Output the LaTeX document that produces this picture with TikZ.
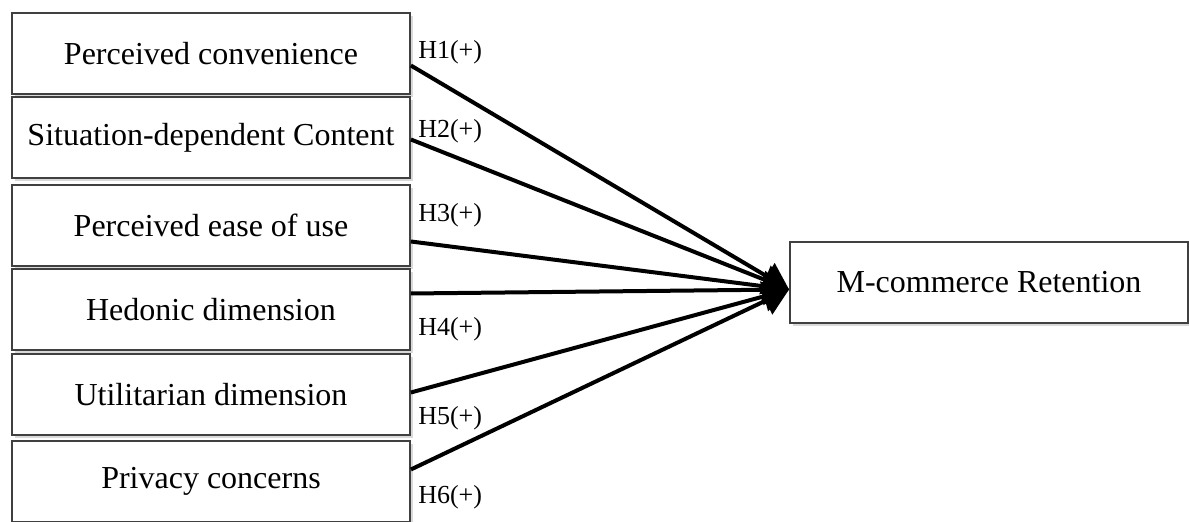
\documentclass[tikz,border=0pt]{standalone}
\usepackage{fontspec}
\setmainfont{Liberation Serif}
\usepackage{tikz}
\usetikzlibrary{arrows.meta,positioning,shadows}

\begin{document}
\begin{tikzpicture}[x=0.5pt,y=-0.5pt,
    construct/.style={draw=black!75,line width=0.9pt,fill=white,
      minimum width=199pt,minimum height=40.5pt,inner sep=0pt,
      font=\fontsize{16}{19}\selectfont,
      drop shadow={opacity=0.3,shadow xshift=1.3pt,shadow yshift=-1.3pt}},
    hyp/.style={anchor=west,inner sep=0pt,font=\fontsize{13}{15}\selectfont},
    path/.style={line width=2pt,-{Triangle[length=13pt,width=15pt]}}]
  \useasboundingbox (0,0) rectangle (1189,522);
  % predictors
  \node[construct] (conv) at (211,53.5) {Perceived convenience};
  \node[construct,below=0.6pt of conv] (situ) {Situation-dependent Content};
  \node[construct,below=2.6pt of situ] (ease) {Perceived ease of use};
  \node[construct,below=0.6pt of ease] (hedo) {Hedonic dimension};
  \node[construct,below=1.1pt of hedo] (util) {Utilitarian dimension};
  \node[construct,below=2.1pt of util] (priv) {Privacy concerns};
  % outcome
  \node[construct] (ret) at (989,282.5) {M-commerce Retention};
  \coordinate (tip) at ([yshift=-3.5pt]ret.west);
  % hypothesised paths
  \draw[path] ([yshift=-6pt]conv.east) -- (tip);
  \draw[path] ([yshift=-1pt]situ.east) -- (tip);
  \draw[path] ([yshift=-8pt]ease.east) -- (tip);
  \draw[path] ([yshift=8pt]hedo.east) -- (tip);
  \draw[path] ([yshift=1pt]util.east) -- (tip);
  \draw[path] ([yshift=6pt]priv.east) -- (tip);
  \node[hyp] (h1) at ([xshift=3.5pt,yshift=0.5pt]conv.east) {H1(+)};
  \node[hyp] (h2) at ([xshift=3.5pt,yshift=3pt]situ.east) {H2(+)};
  \node[hyp] (h3) at ([xshift=3.5pt,yshift=5pt]ease.east) {H3(+)};
  \node[hyp] (h4) at ([xshift=3.5pt,yshift=-10pt]hedo.east) {H4(+)};
  \node[hyp] (h5) at ([xshift=3.5pt,yshift=-12pt]util.east) {H5(+)};
  \node[hyp] (h6) at ([xshift=3.5pt,yshift=-8pt]priv.east) {H6(+)};
\end{tikzpicture}
\end{document}
